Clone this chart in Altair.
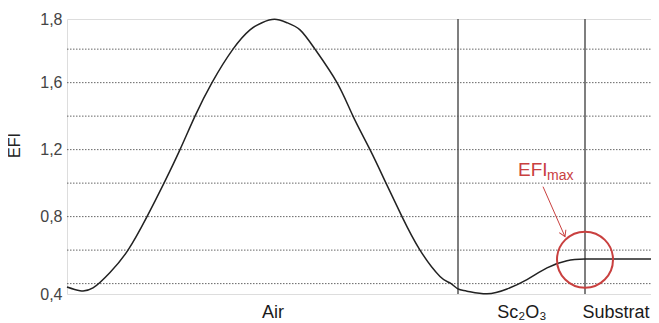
import altair as alt
import pandas as pd

# Curve (position along depth, EFI value)
pos = [0, 13, 26, 43, 61, 80, 97, 113, 128, 145, 166, 183, 195, 207.5,
       220, 233, 248, 270, 286, 303, 319, 335, 353, 373, 383, 391, 400,
       420, 440, 460, 480, 500, 518]
efi = [0.38, 0.358, 0.374, 0.466, 0.60, 0.80, 1.00, 1.20, 1.40, 1.60, 1.80,
       1.915, 1.958, 1.978, 1.958, 1.915, 1.80, 1.60, 1.40, 1.20, 1.00, 0.80,
       0.60, 0.443, 0.404, 0.368, 0.355, 0.339, 0.368, 0.424, 0.494, 0.537,
       0.547]
# Flat part in the substrate
flat_pos = [518, 584]
flat_efi = [0.547, 0.547]

# Layer boundaries
boundaries = [391, 518]
# Region labels
regions = ["Air", "Sc\u2082O\u2083", "Substrat"]
region_pos = [206, 455, 549]
# Gridlines
grid_vals = [0.4, 0.6, 0.8, 1.0, 1.2, 1.4, 1.6, 1.8]
# Y axis
y_min, y_max = 0.338, 1.98
tick_vals = [y_min, 0.8, 1.2, 1.6, y_max]

# EFI max annotation
circle_x, circle_y = [518], [0.543]
arrow_x, arrow_y, arrow_x2, arrow_y2 = [476], [0.979], [498], [0.68]
ann_x, ann_y = [451], [1.043]

curve_df = pd.DataFrame({"pos": pos, "efi": efi})
flat_df = pd.DataFrame({"pos": flat_pos, "efi": flat_efi})
bnd_df = pd.DataFrame({"pos": boundaries})
reg_df = pd.DataFrame({"label": regions, "pos": region_pos})
grid_df = pd.DataFrame({"v": grid_vals})
circ_df = pd.DataFrame({"x": circle_x, "y": circle_y})
arrow_df = pd.DataFrame({"x": arrow_x, "y": arrow_y, "x2": arrow_x2, "y2": arrow_y2})
ann_df = pd.DataFrame({"x": ann_x, "y": ann_y})

W, H = 584, 275
xs = alt.Scale(domain=[0, 584], nice=False, zero=False)
ys = alt.Scale(domain=[y_min, y_max], nice=False, zero=False)

red = "#c9403f"
FONT = "Liberation Sans"

grid = alt.Chart(grid_df).mark_rule(color="#666", strokeWidth=1, strokeDash=[1.5, 1.5]).encode(
    y=alt.Y("v:Q", scale=ys,
            axis=alt.Axis(values=tick_vals, grid=False, ticks=False, domain=False,
                          labelExpr="datum.value < 0.5 ? '0,4' : datum.value > 1.9 ? '1,8' : replace(format(datum.value, '.1f'), '.', ',')",
                          labelFont=FONT, labelFontSize=16, labelColor="#444", labelPadding=5,
                          title="EFI", titleFont=FONT, titleFontSize=16, titleFontWeight="normal",
                          titleColor="#222", titleX=-53, titleY=126, titleAlign="center",
                          titleBaseline="middle", titleAngle=270)),
    x=alt.value(0), x2=alt.value(W)
)

bnd = alt.Chart(bnd_df).mark_rule(color="#555", strokeWidth=1.5).encode(
    x=alt.X("pos:Q", scale=xs, axis=None), y=alt.value(0), y2=alt.value(H)
)

curve = alt.Chart(curve_df).mark_line(color="#222", strokeWidth=1.5, interpolate="natural").encode(
    x=alt.X("pos:Q", scale=xs, axis=None),
    y=alt.Y("efi:Q", scale=ys)
)
flat = alt.Chart(flat_df).mark_line(color="#222", strokeWidth=1.5).encode(
    x=alt.X("pos:Q", scale=xs, axis=None),
    y=alt.Y("efi:Q", scale=ys)
)

labels = alt.Chart(reg_df).mark_text(font=FONT, fontSize=18, color="#1a1a1a", baseline="middle", align="center").encode(
    x=alt.X("pos:Q", scale=xs, axis=None), y=alt.value(H + 19), text="label:N"
)

circle = alt.Chart(circ_df).mark_point(shape="circle", size=3136, filled=False, color=red, strokeWidth=2, opacity=1).encode(
    x=alt.X("x:Q", scale=xs, axis=None), y=alt.Y("y:Q", scale=ys)
)

arrow = alt.Chart(arrow_df).mark_rule(color=red, strokeWidth=1).encode(
    x=alt.X("x:Q", scale=xs, axis=None), y=alt.Y("y:Q", scale=ys), x2="x2:Q", y2="y2:Q"
)

head = alt.Chart(arrow_df).mark_point(shape="M-0.6,-1L0,0L0.6,-1", size=144, filled=False, color=red,
                                      strokeWidth=1, opacity=1, angle=336).encode(
    x=alt.X("x2:Q", scale=xs, axis=None), y=alt.Y("y2:Q", scale=ys)
)

ann1 = alt.Chart(ann_df).mark_text(text="EFI", font=FONT, fontSize=19, color=red, align="left", baseline="alphabetic").encode(
    x=alt.X("x:Q", scale=xs, axis=None), y=alt.Y("y:Q", scale=ys)
)
ann2 = alt.Chart(ann_df).mark_text(text="max", font=FONT, fontSize=14, color=red, align="left", baseline="alphabetic", dx=29, dy=4).encode(
    x=alt.X("x:Q", scale=xs, axis=None), y=alt.Y("y:Q", scale=ys)
)

chart = alt.layer(grid, bnd, curve, flat, labels, circle, arrow, head, ann1, ann2).properties(
    width=W, height=H,
    autosize=alt.AutoSizeParams(type="none"),
    padding={"left": 59, "top": 11, "right": 0, "bottom": 29},
).configure_view(stroke="#808080", strokeWidth=1.5).configure(background="white")

chart.save("out.html", embed_options={"renderer": "svg", "actions": False})
